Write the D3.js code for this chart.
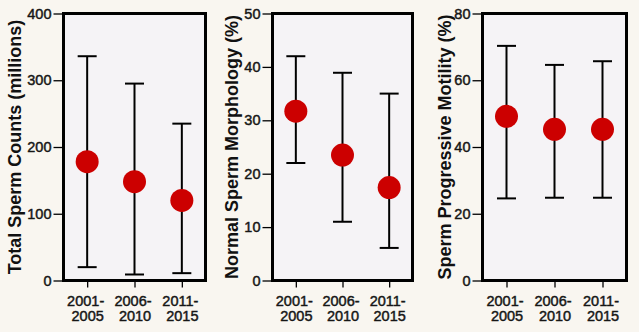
<!DOCTYPE html>
<html>
<head>
<meta charset="utf-8">
<script src="https://cdn.jsdelivr.net/npm/d3@7"></script>
<style>
  html, body { margin: 0; padding: 0; background: #f9f6f0; }
  svg { display: block; }
  text { font-family: "Liberation Sans", Arial, Helvetica, sans-serif; }
</style>
</head>
<body>
<svg id="chart" width="639" height="332"></svg>
<script>
// Study periods shared by all three panels
const periods = ["2001-2005", "2006-2010", "2011-2015"];

// Total sperm counts (millions): mean and range
const countMean = [178, 148, 120];
const countLow  = [20, 9, 11];
const countHigh = [336, 295, 235];

// Normal sperm morphology (%)
const morphMean = [31.7, 23.5, 17.4];
const morphLow  = [22, 11, 6.1];
const morphHigh = [42, 38.9, 35];

// Sperm progressive motility (%)
const motilMean = [49.2, 45.3, 45.3];
const motilLow  = [24.6, 24.8, 24.8];
const motilHigh = [70.3, 64.6, 65.7];

// Axis tick values per panel
const countTicks = [0, 100, 200, 300, 400];
const morphTicks = [0, 10, 20, 30, 40, 50];
const motilTicks = [0, 20, 40, 60, 80];

const panels = [
  { title: "Total Sperm Counts (millions)", mean: countMean, low: countLow, high: countHigh,
    ticks: countTicks, max: 400, x0: 63.5, x1: 205.5, titleX: 15 },
  { title: "Normal Sperm Morphology (%)", mean: morphMean, low: morphLow, high: morphHigh,
    ticks: morphTicks, max: 50, x0: 272.5, x1: 412.5, titleX: 232 },
  { title: "Sperm Progressive Motility (%)", mean: motilMean, low: motilLow, high: motilHigh,
    ticks: motilTicks, max: 80, x0: 482.5, x1: 626.5, titleX: 445 }
];

const svg = d3.select("#chart");
const yTop = 13.5, yBot = 280.5;

// medium-weight label look: regular face with a hairline outline
function labelStyle(sel) {
  sel.attr("font-size", 14.5).attr("font-weight", "normal")
    .attr("fill", "#161616").attr("stroke", "#161616").attr("stroke-width", 0.45)
    .attr("font-family", "'Liberation Sans', Arial, sans-serif");
}

panels.forEach(p => {
  const g = svg.append("g");
  const y = d3.scaleLinear().domain([0, p.max]).range([yBot, yTop]);
  const x = d3.scalePoint().domain(periods).range([p.x0, p.x1]).padding(0.5);

  // plot area background
  g.append("rect")
    .attr("x", p.x0).attr("y", yTop)
    .attr("width", p.x1 - p.x0).attr("height", yBot - yTop)
    .attr("fill", "#f5f3f6");

  // y axis
  const yAxis = d3.axisLeft(y).tickValues(p.ticks).tickSize(9).tickPadding(2);
  const ya = g.append("g").attr("transform", `translate(${p.x0 - 1},0)`).call(yAxis);
  ya.select(".domain").remove();
  ya.selectAll(".tick line").attr("stroke", "#000").attr("stroke-width", 1.3);
  ya.selectAll(".tick text").call(labelStyle);

  // x axis with two-line period labels
  const xAxis = d3.axisBottom(x).tickSize(6).tickFormat("");
  const xa = g.append("g").attr("transform", `translate(0,${yBot + 1})`).call(xAxis);
  xa.select(".domain").remove();
  xa.selectAll(".tick line").attr("stroke", "#000").attr("stroke-width", 1.3);
  xa.selectAll(".tick").each(function(d) {
    const parts = d.split("-");
    const t = d3.select(this).append("text")
      .attr("text-anchor", "middle").call(labelStyle);
    t.append("tspan").attr("x", -2).attr("y", 24).text(parts[0] + "-");
    t.append("tspan").attr("x", 0).attr("y", 39).text(parts[1]);
  });

  // error bars
  const bars = g.selectAll(".err").data(periods).enter().append("g");
  bars.append("line")
    .attr("x1", d => x(d)).attr("x2", d => x(d))
    .attr("y1", (d, i) => y(p.low[i])).attr("y2", (d, i) => y(p.high[i]))
    .attr("stroke", "#000").attr("stroke-width", 2);
  ["low", "high"].forEach(k => {
    bars.append("line")
      .attr("x1", d => x(d) - 9.5).attr("x2", d => x(d) + 9.5)
      .attr("y1", (d, i) => y(p[k][i])).attr("y2", (d, i) => y(p[k][i]))
      .attr("stroke", "#000").attr("stroke-width", 2);
  });

  // means
  g.selectAll(".dot").data(periods).enter().append("circle")
    .attr("cx", d => x(d)).attr("cy", (d, i) => y(p.mean[i]))
    .attr("r", 11.5).attr("fill", "#cc0000");

  // frame
  g.append("rect")
    .attr("x", p.x0).attr("y", yTop)
    .attr("width", p.x1 - p.x0).attr("height", yBot - yTop)
    .attr("fill", "none").attr("stroke", "#000").attr("stroke-width", 3);

  // y axis title
  g.append("text")
    .attr("transform", `translate(${p.titleX},${(yTop + yBot) / 2}) rotate(-90)`)
    .attr("text-anchor", "middle").attr("dominant-baseline", "central")
    .attr("font-size", 18).attr("font-weight", "bold").attr("fill", "#111")
    .text(p.title);
});
</script>
</body>
</html>
